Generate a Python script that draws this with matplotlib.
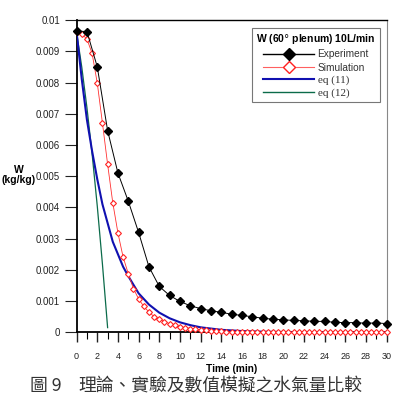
import matplotlib
matplotlib.use("Agg")
import matplotlib.pyplot as plt
from matplotlib.lines import Line2D
from matplotlib.ticker import MultipleLocator, FixedLocator, FixedFormatter

# ---- data ----
exp_t = list(range(0, 31))
exp_w = [0.00965, 0.00963, 0.0085, 0.00646, 0.0051, 0.0042, 0.0032, 0.0021,
         0.00147, 0.00118, 0.00099, 0.00085, 0.00076, 0.00069, 0.00064, 0.00058,
         0.00054, 0.00050, 0.00045, 0.00042, 0.00040, 0.00038, 0.00037, 0.00035,
         0.00035, 0.00032, 0.00031, 0.00031, 0.00029, 0.00030, 0.00028]

sim_t = [i * 0.5 for i in range(0, 61)]
sim_w = [0.00962, 0.00956, 0.00939, 0.00893, 0.00798, 0.00670, 0.00538, 0.00415,
         0.00318, 0.00241, 0.00188, 0.00140, 0.00107, 0.00083, 0.00065, 0.00050,
         0.00043, 0.00034, 0.00028, 0.00022, 0.00018, 0.00015, 0.00012, 0.00010,
         0.00008, 0.00006, 0.00005, 0.00004, 0.00003, 0.00002, 0.00001] + [0.0] * 30

eq11_t = [0, 0.5, 1, 1.5, 2, 2.5, 3, 3.5, 4, 4.5, 5, 6, 7, 8, 9, 10, 11, 12, 13,
          14, 15, 16, 18, 20, 25, 30]
eq11_w = [0.0096, 0.0081, 0.0068, 0.0058, 0.0049, 0.0041, 0.0035, 0.0029, 0.0025,
          0.0021, 0.0018, 0.00125, 0.00089, 0.00063, 0.00045, 0.00032, 0.00023,
          0.00016, 0.00012, 0.00008, 0.00006, 0.00004, 0.00002, 0.00001, 0.0, 0.0]

eq12_t = [0, 0.5, 1.0, 1.5, 2.0, 2.5, 3.0]
eq12_w = [0.0096, 0.00849, 0.00719, 0.00571, 0.00404, 0.00218, 0.00015]

xticks = list(range(0, 31, 2))
yticks = [0, 0.001, 0.002, 0.003, 0.004, 0.005, 0.006, 0.007, 0.008, 0.009, 0.01]
ytick_labels = ["0", "0.001", "0.002", "0.003", "0.004", "0.005", "0.006",
                "0.007", "0.008", "0.009", "0.01"]

plt.rcParams['font.family'] = ['Liberation Sans', 'DejaVu Sans']

fig = plt.figure(figsize=(3.97, 4.01), dpi=100)
ax = fig.add_axes([0.193, 0.1713, 0.7806, 0.7787])

ax.plot(eq12_t, eq12_w, color='#0b6b4a', lw=0.9, zorder=2)
ax.plot(eq11_t, eq11_w, color='#1010b0', lw=1.5, zorder=3)
ax.plot(sim_t, sim_w, color='#ff3030', lw=0.6, marker='D', ms=3.0,
        mfc='white', mec='#ff2020', mew=0.8, zorder=4, clip_on=False)
ax.plot(exp_t, exp_w, color='black', lw=0.7, marker='D', ms=3.8,
        mfc='black', mec='black', zorder=5, clip_on=False)

ax.set_xlim(0, 30)
ax.set_ylim(0, 0.01)
ax.xaxis.set_major_locator(FixedLocator(xticks))
ax.xaxis.set_minor_locator(MultipleLocator(1))
ax.yaxis.set_major_locator(FixedLocator(yticks))
ax.yaxis.set_major_formatter(FixedFormatter(ytick_labels))
ax.tick_params(axis='x', which='major', direction='out', length=7, width=1,
               labelsize=6.5, pad=7, colors='#222222')
ax.tick_params(axis='x', which='minor', direction='out', length=5, width=0.8)
ax.tick_params(axis='y', which='major', direction='out', length=9, width=0.8,
               labelsize=7, pad=3, colors='#222222')

for s in ['left', 'bottom']:
    ax.spines[s].set_linewidth(1.3)
ax.spines['top'].set_linewidth(1.0)
ax.spines['right'].set_color('#888888')
ax.spines['right'].set_linewidth(0.8)

ax.set_xlabel('Time (min)', fontsize=7.3, fontweight='bold', labelpad=2)
fig.text(19 / 397, 1 - 175 / 401, 'W\n(kg/kg)', ha='center', va='center',
         fontsize=7.5, fontweight='bold', linespacing=1.1)

handles = [
    Line2D([], [], color='black', lw=1, marker='D', ms=6, mfc='black', mec='black'),
    Line2D([], [], color='#ff6060', lw=0.8, marker='D', ms=6, mfc='white', mec='#ff2020', mew=1),
    Line2D([], [], color='#1010b0', lw=1.5),
    Line2D([], [], color='#0b6b4a', lw=1.0),
]
labels = ['Experiment', 'Simulation', 'eq (11)', 'eq (12)']
leg = ax.legend(handles, labels, loc='upper left', bbox_to_anchor=(0.565, 0.975),
                title='W (60$\\degree$ plenum) 10L/min', fontsize=7.3,
                title_fontproperties={'weight': 'bold', 'size': 7.5},
                frameon=True, fancybox=False, framealpha=1, edgecolor='#777777',
                handlelength=5.0, handletextpad=0.35, labelspacing=0.3,
                borderpad=0.45, borderaxespad=0)
leg.get_frame().set_linewidth(0.8)
for i, txt in enumerate(leg.get_texts()):
    txt.set_color('#333333')
    if i >= 2:
        txt.set_family(['Liberation Serif', 'DejaVu Serif'])
        txt.set_fontsize(8)

cap_kw = dict(fontsize=12.8, color='#333333', va='center',
              family=['Noto Sans CJK TC', 'DejaVu Sans'])
fig.text(30 / 397, 1 - 386 / 401, '圖 9', ha='left', **cap_kw)
fig.text(78 / 397, 1 - 386 / 401, '理論、實驗及數值模擬之水氣量比較', ha='left', **cap_kw)

fig.savefig('out.png', dpi=100)
